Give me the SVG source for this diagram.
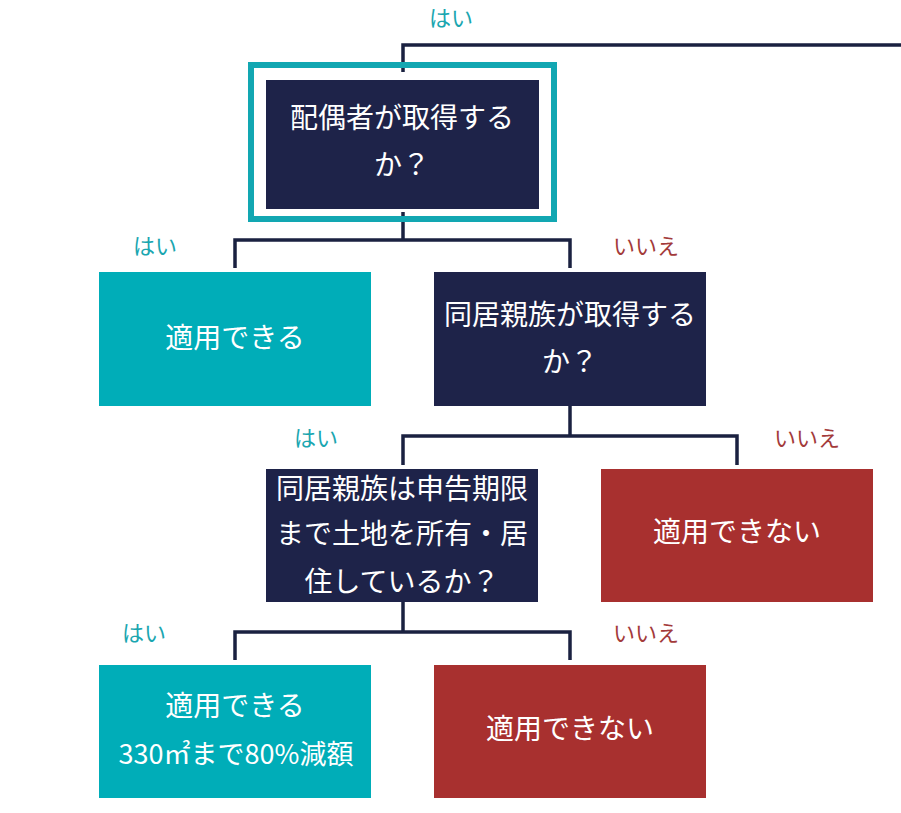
<svg xmlns="http://www.w3.org/2000/svg" width="901" height="813" viewBox="0 0 901 813">
<style>
.navy{fill:#1e2349}
.teal{fill:#00adb8}
.red{fill:#a8302f}
.t{font-family:"Noto Sans CJK JP","Noto Sans",sans-serif;font-size:28px;fill:#ffffff;text-anchor:middle;dominant-baseline:central}
.yes{font-family:"Noto Sans CJK JP","Noto Sans",sans-serif;font-size:22px;fill:#1aa6b0;text-anchor:middle;dominant-baseline:central}
.no{font-family:"Noto Sans CJK JP","Noto Sans",sans-serif;font-size:22px;fill:#a33a3a;text-anchor:middle;dominant-baseline:central}
.c{fill:none;stroke:#1a2140;stroke-width:3.5}
</style>
<rect width="901" height="813" fill="#ffffff"/>
<g id="connectors">
<polyline class="c" points="403,72 403,45 901,45"/>
<polyline class="c" points="403,212 403,240"/>
<polyline class="c" points="235,268 235,240 570,240 570,268"/>
<polyline class="c" points="570,406 570,436"/>
<polyline class="c" points="403,465 403,436 737,436 737,465"/>
<polyline class="c" points="403,602 403,632"/>
<polyline class="c" points="235,660 235,632 570,632 570,660"/>
</g>
<g id="labels">
<text class="yes" x="451" y="16">はい</text>
<text class="yes" x="155" y="244">はい</text>
<text class="no" x="646" y="244">いいえ</text>
<text class="yes" x="316" y="436">はい</text>
<text class="no" x="807" y="436">いいえ</text>
<text class="yes" x="144" y="631">はい</text>
<text class="no" x="646" y="631">いいえ</text>
</g>
<g id="n1">
<rect x="251" y="65" width="303" height="154" fill="none" stroke="#12a7b2" stroke-width="6"/>
<rect class="navy" x="266" y="80" width="273" height="129"/>
<text class="t" x="402" y="116">配偶者が取得する</text>
<text class="t" x="402" y="163">か？</text>
</g>
<g id="n2">
<rect class="teal" x="99" y="272" width="272" height="134"/>
<text class="t" x="235" y="336">適用できる</text>
</g>
<g id="n3">
<rect class="navy" x="434" y="272" width="272" height="134"/>
<text class="t" x="570" y="313">同居親族が取得する</text>
<text class="t" x="570" y="360">か？</text>
</g>
<g id="n4">
<rect class="navy" x="266" y="469" width="272" height="133"/>
<text class="t" x="402" y="487">同居親族は申告期限</text>
<text class="t" x="402" y="532">まで土地を所有・居</text>
<text class="t" x="402" y="580">住しているか？</text>
</g>
<g id="n5">
<rect class="red" x="601" y="469" width="272" height="133"/>
<text class="t" x="737" y="530">適用できない</text>
</g>
<g id="n6">
<rect class="teal" x="99" y="665" width="272" height="133"/>
<text class="t" x="235" y="704">適用できる</text>
<text class="t" x="236" y="752" style="font-size:27px">330㎡まで80%減額</text>
</g>
<g id="n7">
<rect class="red" x="434" y="665" width="272" height="133"/>
<text class="t" x="570" y="727">適用できない</text>
</g>
</svg>
